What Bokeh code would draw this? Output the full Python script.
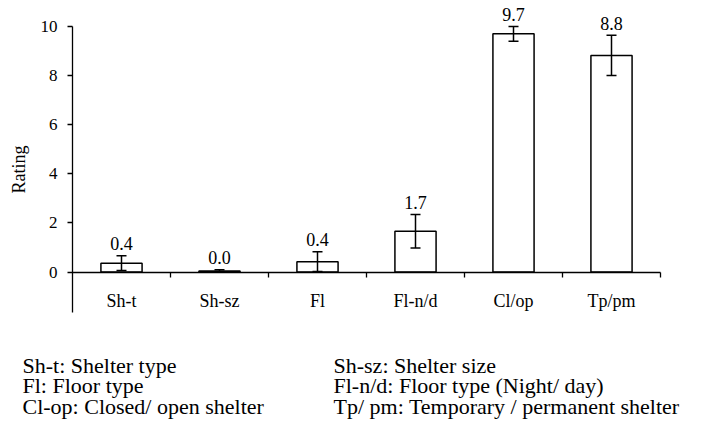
from bokeh.plotting import figure
from bokeh.models import Range1d, FixedTicker, Whisker, ColumnDataSource, TeeHead
from bokeh.core.properties import value
from bokeh.embed import file_html
from bokeh.resources import INLINE

categories = ["Sh-t", "Sh-sz", "Fl", "Fl-n/d", "Cl/op", "Tp/pm"]
ratings = [0.36, 0.04, 0.42, 1.66, 9.7, 8.82]
errors = [0.30, 0.05, 0.40, 0.68, 0.30, 0.82]
value_labels = ["0.4", "0.0", "0.4", "1.7", "9.7", "8.8"]
y_ticks = [0, 2, 4, 6, 8, 10]
footnotes_left = ["Sh-t: Shelter type", "Fl: Floor type", "Cl-op: Closed/ open shelter"]
footnotes_right = ["Sh-sz: Shelter size", "Fl-n/d: Floor type (Night/ day)",
                   "Tp/ pm: Temporary / permanent shelter"]

FONT = "Liberation Serif"
W, H = 711, 435
PX_X = 98.0     # pixels per category
PX_Y = 24.55    # pixels per rating unit
LEFT, TOP10 = 72, 26  # pixel position of x=0 and of y=10

n = len(categories)
xs = [i + 0.5 for i in range(n)]
src = ColumnDataSource(dict(
    x=xs, top=ratings, lab=value_labels,
    lower=[max(r - e, 0) for r, e in zip(ratings, errors)],
    upper=[r + e for r, e in zip(ratings, errors)],
))

x0 = -LEFT / PX_X
x1 = x0 + W / PX_X
y1 = 10 + TOP10 / PX_Y
y0 = y1 - H / PX_Y

p = figure(width=W, height=H, output_backend="svg", toolbar_location=None,
           x_range=Range1d(x0, x1), y_range=Range1d(y0, y1),
           min_border_left=0, min_border_right=0, min_border_top=0, min_border_bottom=0)
p.outline_line_color = None
p.xgrid.visible = False
p.ygrid.visible = False
p.extra_x_ranges = {"px": Range1d(0, W)}
p.extra_y_ranges = {"px": Range1d(H, 0)}

# y axis at x = 0
ya = p.yaxis[0]
ya.fixed_location = 0
ya.ticker = FixedTicker(ticks=y_ticks)
ya.bounds = (-1.65, 10)
ya.axis_line_color = "black"
ya.axis_line_width = 1.3
ya.major_tick_in = 0
ya.major_tick_out = 5
ya.major_tick_line_width = 1.3
ya.minor_tick_line_color = None
ya.major_label_standoff = 10
ya.major_label_text_font = FONT
ya.major_label_text_font_size = "17px"
ya.major_label_text_color = "black"
ya.axis_label = "Rating"
ya.axis_label_text_font = FONT
ya.axis_label_text_font_size = "18px"
ya.axis_label_text_font_style = "normal"
ya.axis_label_text_color = "black"
ya.axis_label_standoff = 9

# x axis at y = 0, category ticks at boundaries
xa = p.xaxis[0]
xa.fixed_location = 0
xa.bounds = (0, n)
xa.ticker = FixedTicker(ticks=xs, minor_ticks=list(range(1, n + 1)))
xa.major_label_overrides = {x: c for x, c in zip(xs, categories)}
xa.axis_line_color = "black"
xa.axis_line_width = 1.3
xa.major_tick_line_color = None
xa.minor_tick_in = 0
xa.minor_tick_out = 5
xa.minor_tick_line_width = 1.3
xa.minor_tick_line_color = "black"
xa.major_label_standoff = 13
xa.major_label_text_font = FONT
xa.major_label_text_font_size = "18px"
xa.major_label_text_color = "black"

# bars
p.vbar(x="x", top="top", bottom=0, width=0.42, source=src,
       fill_color="white", line_color="black", line_width=1.5)

# error bars
p.add_layout(Whisker(base="x", lower="lower", upper="upper", source=src, level="overlay",
                     line_color="black", line_width=1.5,
                     upper_head=TeeHead(size=10, line_color="black", line_width=1.5),
                     lower_head=TeeHead(size=10, line_color="black", line_width=1.5)))

# value labels
p.text(x="x", y="upper", text="lab", source=src, y_offset=-12,
       text_align="center", text_baseline="middle",
       text_font=value(FONT), text_font_size="18px", text_color="black")

# footnotes (pixel coordinates)
row_y = [365, 385, 406]
col_x = [22, 333]
p.text(x=[col_x[0]] * 3 + [col_x[1]] * 3, y=row_y + row_y,
       text=footnotes_left + footnotes_right, x_range_name="px", y_range_name="px",
       text_align="left", text_baseline="middle",
       text_font=value(FONT), text_font_size="22px", text_color="black")

open("out.html", "w").write(file_html(p, INLINE))
